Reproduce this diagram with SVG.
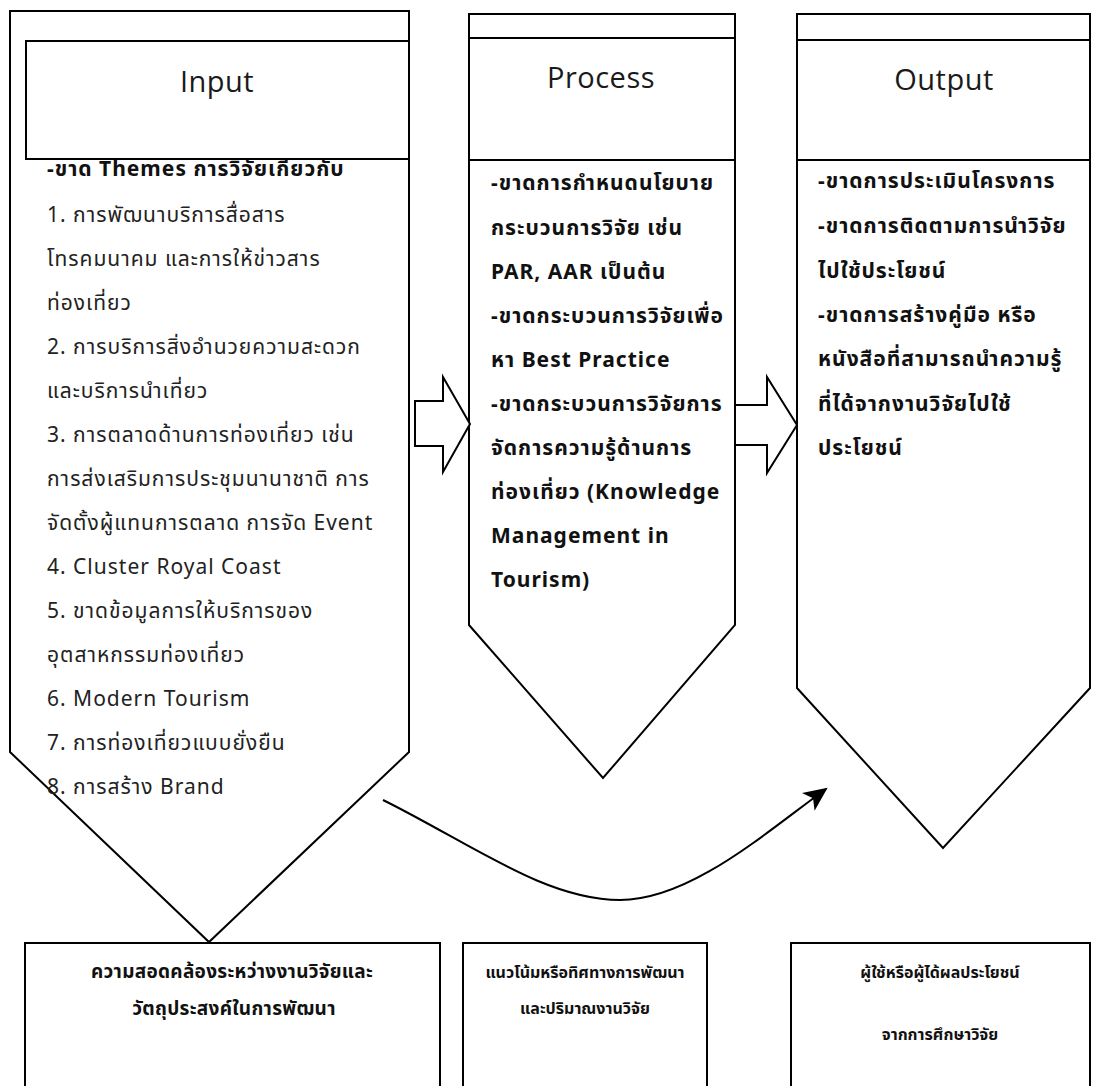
<svg xmlns="http://www.w3.org/2000/svg" width="1094" height="1086" viewBox="0 0 1094 1086">
  <style>
    .shape { fill: #ffffff; stroke: #000000; stroke-width: 2; }
    .head { font-family: "Open Sans", "Noto Sans", sans-serif; font-size: 29px; letter-spacing: 0.5px; fill: #1a1a1a; text-anchor: middle; }
    .body { font-family: "Noto Sans", "Noto Sans Thai", Tahoma, sans-serif; font-size: 21px; letter-spacing: 1px; fill: #222222; }
    .bold { font-weight: bold; fill: #111111; }
    .note { font-family: "Noto Sans", "Noto Sans Thai", Tahoma, sans-serif; font-size: 16px; font-weight: bold; fill: #111111; text-anchor: middle; }
    .note-lg { font-size: 19px; letter-spacing: 0.3px; }
    .link { fill: none; stroke: #000000; stroke-width: 2; }
  </style>
  <defs>
    <marker id="arrowhead" markerUnits="userSpaceOnUse" markerWidth="26" markerHeight="22" refX="22" refY="11" orient="auto">
      <path d="M0,0 L24,11 L0,22 L6,11 z" fill="#000000"/>
    </marker>
  </defs>

  <rect width="1094" height="1086" fill="#ffffff"/>

  <!-- Input column -->
  <g id="input">
    <polygon class="shape" points="10,11 409,11 409,752 209,942 10,752"/>
    <g class="body">
      <text class="bold" x="47" y="176">-ขาด Themes การวิจัยเกี่ยวกับ</text>
      <text x="47" y="222">1. การพัฒนาบริการสื่อสาร</text>
      <text x="47" y="266">โทรคมนาคม และการให้ข่าวสาร</text>
      <text x="47" y="310">ท่องเที่ยว</text>
      <text x="47" y="354">2. การบริการสิ่งอำนวยความสะดวก</text>
      <text x="47" y="398">และบริการนำเที่ยว</text>
      <text x="47" y="442">3. การตลาดด้านการท่องเที่ยว เช่น</text>
      <text x="47" y="486">การส่งเสริมการประชุมนานาชาติ การ</text>
      <text x="47" y="530">จัดตั้งผู้แทนการตลาด การจัด Event</text>
      <text x="47" y="574">4. Cluster Royal Coast</text>
      <text x="47" y="618">5. ขาดข้อมูลการให้บริการของ</text>
      <text x="47" y="662">อุตสาหกรรมท่องเที่ยว</text>
      <text x="47" y="706">6. Modern Tourism</text>
      <text x="47" y="750">7. การท่องเที่ยวแบบยั่งยืน</text>
      <text x="47" y="794">8. การสร้าง Brand</text>
    </g>
    <rect class="shape" x="26" y="41" width="383" height="118"/>
    <text class="head" x="217" y="92">Input</text>
  </g>

  <!-- Process column -->
  <g id="process">
    <polygon class="shape" points="469,14 735,14 735,625 603,778 469,625"/>
    <rect class="shape" x="469" y="38" width="266" height="122"/>
    <text class="head" x="601" y="88">Process</text>
    <g class="body bold">
      <text x="491" y="190">-ขาดการกำหนดนโยบาย</text>
      <text x="491" y="235">กระบวนการวิจัย เช่น</text>
      <text x="491" y="279">PAR, AAR เป็นต้น</text>
      <text x="491" y="323">-ขาดกระบวนการวิจัยเพื่อ</text>
      <text x="491" y="367">หา Best Practice</text>
      <text x="491" y="411">-ขาดกระบวนการวิจัยการ</text>
      <text x="491" y="455">จัดการความรู้ด้านการ</text>
      <text x="491" y="499">ท่องเที่ยว (Knowledge</text>
      <text x="491" y="543">Management in</text>
      <text x="491" y="587">Tourism)</text>
    </g>
  </g>

  <!-- Output column -->
  <g id="output">
    <polygon class="shape" points="797,14 1090,14 1090,688 943,848 797,688"/>
    <rect class="shape" x="797" y="40" width="293" height="120"/>
    <text class="head" x="944" y="90">Output</text>
    <g class="body bold">
      <text x="818" y="188">-ขาดการประเมินโครงการ</text>
      <text x="818" y="233">-ขาดการติดตามการนำวิจัย</text>
      <text x="818" y="278">ไปใช้ประโยชน์</text>
      <text x="818" y="322">-ขาดการสร้างคู่มือ หรือ</text>
      <text x="818" y="366">หนังสือที่สามารถนำความรู้</text>
      <text x="818" y="411">ที่ได้จากงานวิจัยไปใช้</text>
      <text x="818" y="455">ประโยชน์</text>
    </g>
  </g>

  <!-- Result boxes along the bottom -->
  <g id="result-alignment">
    <rect class="shape" x="25" y="943" width="415" height="160"/>
    <text class="note note-lg" x="232" y="978">ความสอดคล้องระหว่างงานวิจัยและ</text>
    <text class="note note-lg" x="234" y="1015">วัตถุประสงค์ในการพัฒนา</text>
  </g>
  <g id="result-trend">
    <rect class="shape" x="463" y="943" width="244" height="160"/>
    <text class="note" x="585" y="978">แนวโน้มหรือทิศทางการพัฒนา</text>
    <text class="note" x="585" y="1014">และปริมาณงานวิจัย</text>
  </g>
  <g id="result-users">
    <rect class="shape" x="791" y="943" width="299" height="160"/>
    <text class="note" x="940" y="978">ผู้ใช้หรือผู้ได้ผลประโยชน์</text>
    <text class="note" x="940" y="1040">จากการศึกษาวิจัย</text>
  </g>

  <!-- Connectors -->
  <g id="connectors">
    <polygon class="shape" points="415,401 443,401 443,377 470,424 443,472 443,446 415,446"/>
    <polygon class="shape" points="735,405 767,405 767,377 797,425 767,473 767,445 735,445"/>
    <path class="link" d="M383,800 C470,843 545,900 620,900 C690,900 765,833 826,789" marker-end="url(#arrowhead)"/>
  </g>
</svg>
